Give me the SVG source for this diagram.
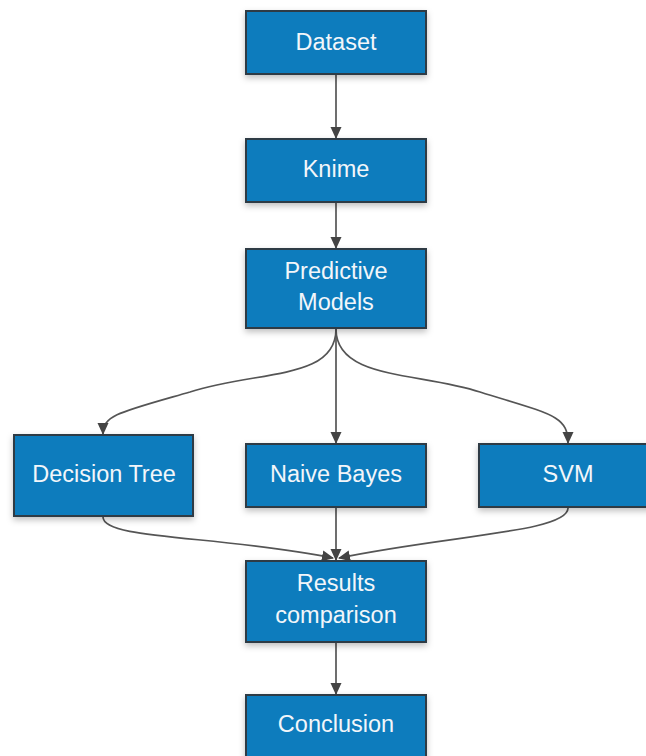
<svg xmlns="http://www.w3.org/2000/svg" width="646" height="756" viewBox="0 0 646 756">
  <style>
    .box { fill: #0f7bbd; stroke: #2f3a44; stroke-width: 2; filter: url(#shadow); }
    .label { font-family: "Liberation Sans", Arial, sans-serif; font-size: 23.5px; fill: #f2f6fa; text-anchor: middle; }
    .edge { fill: none; stroke: #555; stroke-width: 1.7; marker-end: url(#arrow); }
  </style>
  <defs>
    <filter id="shadow" x="-20%" y="-20%" width="140%" height="150%">
      <feDropShadow dx="0" dy="3" stdDeviation="3" flood-color="#000" flood-opacity="0.25"/>
    </filter>
    <marker id="arrow" viewBox="0 0 12 12" refX="11" refY="6" markerWidth="12" markerHeight="12" markerUnits="userSpaceOnUse" orient="auto">
      <path d="M0,0.5 L12,6 L0,11.5 z" fill="#444"/>
    </marker>
  </defs>
  <rect width="646" height="756" fill="#fff"/>

  <g id="connectors">
    <path class="edge" d="M336,75 L336,138"/>
    <path class="edge" d="M336,203 L336,248"/>
    <path class="edge" d="M336,329 L336,443"/>
    <path class="edge" d="M336,329 C336,380 260,370 190,392 C120,412 103,415 103,434"/>
    <path class="edge" d="M336,329 C336,380 420,372 480,392 C550,414 568,415 568,443"/>
    <path class="edge" d="M336,508 L336,560"/>
    <path class="edge" d="M103,517 C103,540 220,535 333,558"/>
    <path class="edge" d="M568,508 C568,532 450,535 339,558"/>
    <path class="edge" d="M336,643 L336,694"/>
  </g>

  <g id="dataset">
    <rect class="box" x="246" y="11" width="180" height="63"/>
    <text class="label" x="336" y="50">Dataset</text>
  </g>
  <g id="knime">
    <rect class="box" x="246" y="139" width="180" height="63"/>
    <text class="label" x="336" y="177">Knime</text>
  </g>
  <g id="predictive-models">
    <rect class="box" x="246" y="249" width="180" height="79"/>
    <text class="label" x="336" y="279">Predictive</text>
    <text class="label" x="336" y="310">Models</text>
  </g>
  <g id="decision-tree">
    <rect class="box" x="14" y="435" width="179" height="81"/>
    <text class="label" x="104" y="482">Decision Tree</text>
  </g>
  <g id="naive-bayes">
    <rect class="box" x="246" y="444" width="180" height="63"/>
    <text class="label" x="336" y="482">Naive Bayes</text>
  </g>
  <g id="svm">
    <rect class="box" x="479" y="444" width="180" height="63"/>
    <text class="label" x="568" y="482">SVM</text>
  </g>
  <g id="results-comparison">
    <rect class="box" x="246" y="561" width="180" height="81"/>
    <text class="label" x="336" y="591">Results</text>
    <text class="label" x="336" y="623">comparison</text>
  </g>
  <g id="conclusion">
    <rect class="box" x="246" y="695" width="180" height="63"/>
    <text class="label" x="336" y="732">Conclusion</text>
  </g>
</svg>
